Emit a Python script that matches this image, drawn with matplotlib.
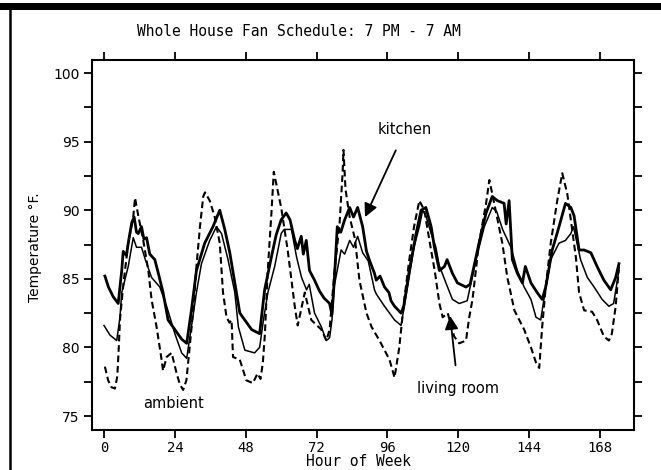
import matplotlib
matplotlib.use("Agg")
import matplotlib.pyplot as plt
from matplotlib.patches import Rectangle
from matplotlib.lines import Line2D

# ---------------- data ----------------
kitchen_hours = [0.3, 1.5, 3.1, 4.8, 6.0, 6.5, 7.6, 8.2, 9.4, 10.2, 11.0, 11.6, 12.7, 13.5, 14.4,
                 15.5, 17.2, 18.4, 20.0, 21.7, 24.0, 26.3, 28.0, 29.6, 31.3, 34.1, 36.9, 39.2,
                 40.9, 42.6, 44.3, 46.0, 48.0, 50.0, 52.7, 54.4, 56.7, 58.3, 60.0, 61.7, 63.0,
                 64.6, 65.5, 66.8, 67.5, 68.5, 69.6, 71.3, 73.0, 74.5, 76.4, 77.2, 78.0, 79.0,
                 80.2, 81.5, 83.2, 84.5, 85.9, 87.6, 88.9, 90.0, 91.6, 92.2, 93.5, 95.0, 96.5,
                 97.2, 98.4, 100.6, 101.5, 103.4, 105.7, 107.4, 109.0, 110.8, 111.9, 113.6,
                 115.3, 116.2, 118.0, 119.7, 122.6, 124.0, 127.0, 129.4, 131.5, 133.2, 135.5,
                 136.2, 137.2, 138.3, 140.0, 141.7, 142.7, 144.6, 146.7, 148.4, 149.6, 151.8,
                 154.1, 156.3, 158.1, 159.2, 160.9, 162.6, 164.9, 167.0, 169.3, 171.6, 173.3,
                 174.4]
kitchen_temp = [85.2, 84.4, 83.7, 83.2, 85.6, 87.0, 86.7, 87.6, 89.1, 89.5, 88.4, 88.3, 88.8, 87.9,
                88.0, 86.8, 86.4, 85.4, 84.0, 82.0, 81.3, 80.6, 80.3, 82.7, 85.6, 87.6, 88.8,
                90.0, 88.6, 86.9, 84.7, 82.5, 81.9, 81.3, 81.0, 84.2, 86.6, 88.2, 89.3, 89.8,
                89.3, 87.8, 87.2, 88.1, 86.8, 87.8, 85.6, 84.9, 84.1, 83.6, 83.2, 82.4, 84.9,
                88.8, 88.4, 89.3, 90.2, 89.5, 90.2, 88.8, 87.0, 86.3, 85.4, 84.9, 85.2, 84.4,
                84.0, 83.4, 83.0, 82.5, 83.0, 85.6, 88.3, 90.0, 90.2, 88.8, 87.3, 85.6, 85.9,
                86.4, 85.4, 84.7, 84.4, 84.6, 87.6, 89.8, 91.0, 90.7, 90.5, 89.0, 90.7, 86.4,
                85.4, 84.7, 85.9, 84.7, 84.0, 83.5, 84.4, 87.1, 88.8, 90.5, 90.2, 89.6, 87.1,
                87.1, 86.9, 85.9, 84.9, 84.2, 85.1, 86.1]

living_hours = [0.0, 2.0, 4.3, 5.4, 6.0, 8.2, 9.9, 11.0, 12.7, 14.0, 16.1, 18.9, 21.2, 24.0, 26.3,
                28.0, 29.6, 31.3, 33.0, 35.8, 38.1, 39.8, 42.0, 44.3, 45.5, 47.7, 51.0, 52.7,
                54.0, 55.5, 57.8, 60.0, 61.0, 63.5, 65.2, 66.9, 68.6, 69.5, 71.3, 73.6, 75.3,
                76.4, 77.2, 78.0, 80.3, 81.5, 83.2, 84.5, 85.9, 87.6, 89.5, 91.6, 92.2, 95.0,
                98.4, 100.6, 102.8, 105.0, 106.8, 107.9, 109.0, 110.8, 112.4, 113.5, 115.8,
                118.0, 120.3, 123.0, 126.0, 128.8, 131.5, 133.0, 135.0, 137.8, 140.0, 142.3,
                144.6, 146.3, 147.9, 149.0, 151.3, 154.1, 156.3, 158.1, 159.0, 161.4, 163.7,
                166.0, 168.7, 171.0, 172.6, 174.4]
living_temp = [81.6, 80.9, 80.5, 82.2, 84.0, 85.9, 88.0, 87.3, 87.3, 86.4, 85.1, 84.4, 83.0, 81.0,
               79.6, 79.2, 81.5, 84.0, 86.1, 87.8, 88.8, 88.3, 86.4, 84.0, 81.5, 79.8, 79.6,
               80.0, 82.0, 84.0, 85.9, 88.3, 88.6, 88.6, 86.6, 85.1, 84.2, 84.6, 82.5, 81.5,
               80.5, 80.7, 82.0, 84.5, 87.1, 86.8, 87.8, 87.3, 88.1, 86.9, 86.3, 84.2, 83.9,
               83.0, 82.0, 81.6, 84.4, 87.3, 88.8, 90.0, 89.6, 88.3, 87.3, 86.0, 84.7, 83.5,
               83.2, 83.4, 86.4, 88.8, 90.2, 89.9, 88.6, 87.3, 85.6, 84.4, 83.5, 82.2, 82.0,
               83.5, 86.4, 87.6, 87.8, 88.3, 88.8, 86.4, 85.1, 84.4, 83.5, 83.0, 83.2, 85.6]

ambient_hours = [0.3, 1.4, 2.5, 3.7, 4.5, 5.0, 5.4, 6.5, 8.2, 9.9, 10.5, 11.6, 13.3, 15.0, 16.1,
                 17.8, 19.5, 20.0, 21.2, 22.9, 24.6, 25.7, 26.8, 27.9, 29.0, 30.2, 31.3, 32.5,
                 33.6, 34.2, 35.8, 37.5, 39.2, 40.3, 41.5, 42.5, 43.2, 43.7, 46.0, 48.2, 50.4,
                 52.0, 53.0, 53.8, 54.5, 55.4, 56.7, 57.5, 60.0, 62.2, 64.6, 65.6, 68.0, 70.2,
                 73.6, 75.3, 76.4, 78.0, 79.8, 80.8, 81.1, 81.8, 83.2, 85.0, 86.5, 88.9, 90.6,
                 93.3, 96.7, 98.4, 100.0, 101.7, 103.4, 105.0, 106.8, 108.5, 110.2, 112.0,
                 113.6, 114.7, 116.4, 118.6, 120.3, 122.6, 123.7, 124.8, 127.0, 129.4, 130.5,
                 131.5, 134.9, 136.6, 139.0, 142.3, 144.6, 146.3, 147.4, 148.4, 149.6, 151.3,
                 153.5, 155.2, 156.9, 158.1, 159.8, 160.9, 162.6, 165.3, 167.0, 169.3, 171.0,
                 172.0, 173.3, 174.4]
ambient_temp = [78.6, 77.6, 77.1, 77.0, 77.9, 80.0, 82.0, 84.5, 87.6, 89.5, 90.9, 89.6, 87.8, 85.6,
                83.5, 81.5, 79.1, 78.3, 79.3, 79.6, 78.1, 77.3, 76.9, 77.6, 80.0, 82.7, 85.9,
                88.8, 91.0, 91.3, 90.7, 89.5, 87.6, 84.0, 82.2, 81.8, 82.0, 79.3, 79.1, 77.6,
                77.4, 78.1, 77.7, 78.9, 81.0, 85.4, 89.8, 92.8, 90.2, 87.1, 83.0, 81.6, 84.0,
                82.0, 81.3, 80.5, 81.3, 85.4, 89.1, 92.7, 94.4, 91.5, 89.5, 87.9, 84.9, 82.5,
                81.5, 80.5, 79.1, 77.8, 80.0, 83.5, 86.4, 88.8, 90.7, 90.0, 87.8, 85.6, 83.2,
                82.2, 82.5, 80.8, 80.3, 80.5, 82.2, 83.5, 87.6, 90.5, 92.2, 91.2, 87.6, 85.1,
                82.7, 81.3, 80.0, 78.9, 78.5, 81.5, 84.4, 87.6, 90.7, 92.7, 91.2, 89.3, 86.6,
                84.0, 82.7, 82.6, 82.0, 80.8, 80.5, 81.0, 83.0, 85.9]

x_ticks = [0, 24, 48, 72, 96, 120, 144, 168]
y_ticks = [75, 80, 85, 90, 95, 100]

title = "Whole House Fan Schedule: 7 PM - 7 AM"
xlabel = "Hour of Week"
ylabel = "Temperature \u00b0F."

# ---------------- figure ----------------
W, H = 661, 470
fig = plt.figure(figsize=(W / 100, H / 100), dpi=100)
ax = fig.add_axes([92 / W, 1 - 430 / H, (634 - 92) / W, (430 - 60) / H])

ax.plot(ambient_hours, ambient_temp, color="black", lw=1.5, ls=(0, (3.2, 1.8)))
ax.plot(living_hours, living_temp, color="black", lw=1.1)
ax.plot(kitchen_hours, kitchen_temp, color="black", lw=2.0)

ax.set_xlim(-4.07, 179.5)
ax.set_ylim(73.98, 100.95)

for s in ax.spines.values():
    s.set_linewidth(1.5)

ax.set_xticks(x_ticks)
ax.set_xticklabels([str(v) for v in x_ticks], fontsize=10, family="DejaVu Sans Mono")
ax.set_yticks(y_ticks)
ax.set_yticklabels([str(v) for v in y_ticks], fontsize=10)
ax.set_yticks([77.5, 82.5, 87.5, 92.5, 97.5], minor=True)
ax.tick_params(axis="x", direction="out", length=6, width=1.3, top=True, labeltop=False, pad=2)
ax.tick_params(axis="y", which="major", direction="out", length=6, width=1.3, right=True,
               labelright=False, pad=3)
ax.tick_params(axis="y", which="minor", direction="out", length=6, width=1.3, right=True)

# texts
fig.text(137 / W, 1 - 32 / H, title, ha="left", va="center", fontsize=10.5,
         family="DejaVu Sans Mono")
fig.text(358 / W, 1 - 462 / H, xlabel, ha="center", va="center", fontsize=10.5,
         family="DejaVu Sans Mono")
fig.text(35 / W, 1 - 247 / H, ylabel, ha="center", va="center", rotation=90, fontsize=10)

ax.text(23.5, 75.9, "ambient", ha="center", va="center", fontsize=10.5)
ax.annotate("kitchen", xy=(88.4, 89.5), xytext=(102.0, 95.85), ha="center", va="center",
            fontsize=10.5,
            arrowprops=dict(arrowstyle="-|>", color="black", lw=1.3, mutation_scale=20,
                            shrinkA=8, shrinkB=0))
ax.annotate("living room", xy=(117.2, 82.3), xytext=(119.9, 77.04), ha="center", va="center",
            fontsize=10.5,
            arrowprops=dict(arrowstyle="-|>", color="black", lw=1.3, mutation_scale=20,
                            shrinkA=9, shrinkB=0))

# page frame from the scan
fig.add_artist(Rectangle((0, 1 - 10 / H), 1, 7 / H, transform=fig.transFigure,
                         color="black", lw=0))
fig.add_artist(Line2D([10 / W, 10 / W], [0, 1 - 4 / H], transform=fig.transFigure,
                      color="black", lw=1.8))

fig.savefig("out.png", dpi=100)
